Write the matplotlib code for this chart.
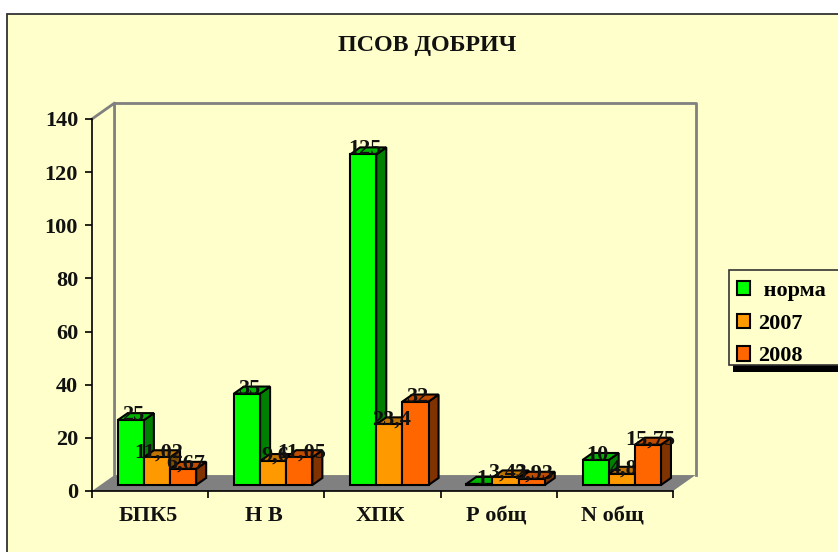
import matplotlib
matplotlib.use("Agg")
import matplotlib.pyplot as plt
from matplotlib.patches import Polygon, Rectangle, Patch

plt.rcParams['font.family'] = ['Liberation Serif', 'DejaVu Serif']
plt.rcParams['font.weight'] = 'bold'
plt.rcParams['font.size'] = 16

categories = ['БПК5', 'Н В', 'ХПК', 'Р общ', 'N общ']
norma = [25, 35, 125, 1, 10]
y2007 = [11.02, 9.6, 23.4, 3.43, 4.8]
y2008 = [6.67, 11.05, 32, 2.93, 15.75]
series_names = [' норма', '2007', '2008']
yticks = [0, 20, 40, 60, 80, 100, 120, 140]

W, H = 838, 552
CREAM = '#FFFFCC'
GREY = '#808080'
# front, top, side colour per series
colors = [('#00FF00', '#00B400', '#008000'),
          ('#FF9900', '#BF7300', '#7F4C00'),
          ('#FF6600', '#BF4C00', '#803300')]

# depth of the 3d look in data units
wall_dx, wall_dy = 0.194, 6.0
bar_dx, bar_dy = 0.086, 2.65
base = 2.26
sink = 0.6  # bars start slightly below the level they stand on
bar_w = 0.225
group_c = 0.559


def fmt(v):
    return ('%g' % v).replace('.', ',')


fig = plt.figure(figsize=(W / 100, H / 100), dpi=100, facecolor='white')

# chart area frame, legend box, in pixels from the top left
bg = fig.add_axes([0, 0, 1, 1])
bg.set_xlim(0, W)
bg.set_ylim(H, 0)
bg.axis('off')
bg.add_patch(Rectangle((7, 14), W, H, fc=CREAM, ec='#333333', lw=1.3))
bg.add_patch(Rectangle((733, 360), W, 12, fc='black', ec='none', zorder=3))
bg.add_patch(Rectangle((729, 270), W, 95, fc=CREAM, ec='#333333', lw=1.2, zorder=4))

ax = fig.add_axes([92 / W, 1 - 491 / H, 581 / W, 372 / H])
ax.patch.set_alpha(0)
ax.set_xlim(0, 5)
ax.set_ylim(0, 140)

# walls and floor
ax.add_patch(Polygon([(0, 0), (5, 0), (5 + wall_dx, wall_dy), (wall_dx, wall_dy)],
                     fc=GREY, ec='none', clip_on=False, zorder=1))
ax.plot([0, wall_dx, wall_dx], [140, 140 + wall_dy, wall_dy], color=GREY, lw=2,
        clip_on=False, zorder=1)
ax.plot([wall_dx, 5 + wall_dx, 5 + wall_dx], [140 + wall_dy, 140 + wall_dy, wall_dy],
        color=GREY, lw=2, clip_on=False, zorder=1)

all_series = [norma, y2007, y2008]
for j, vals in enumerate(all_series):
    front, top, side = colors[j]
    z = 3 + j
    for i, v in enumerate(vals):
        left = i + group_c + (j - 1.5) * bar_w
        right = left + bar_w
        h = base + v - sink
        ax.add_patch(Polygon([(right, base), (right + bar_dx, base + bar_dy),
                              (right + bar_dx, h + bar_dy), (right, h)],
                             fc=side, ec='black', lw=1.5, zorder=z, clip_on=False))
        ax.add_patch(Polygon([(left, h), (right, h), (right + bar_dx, h + bar_dy),
                              (left + bar_dx, h + bar_dy)],
                             fc=top, ec='black', lw=1.5, zorder=z, clip_on=False))
        ax.bar(left, v - sink, bar_w, bottom=base, align='edge', color=front, ec='black',
               lw=1.5, zorder=z, clip_on=False)
for j, vals in enumerate(all_series):
    for i, v in enumerate(vals):
        xc = i + group_c + (j - 1) * bar_w + 0.018
        ax.text(xc, base + v - sink, fmt(v), ha='center', va='baseline', color='#111111',
                zorder=10, clip_on=False)

for s in ['top', 'right']:
    ax.spines[s].set_visible(False)
ax.spines['left'].set_linewidth(1.2)
ax.spines['bottom'].set_linewidth(1.2)
ax.set_yticks(yticks)
ax.tick_params(axis='y', length=5, width=1.2, pad=5, labelcolor='#111111')
ax.set_xticks(range(6))
ax.set_xticklabels([])
ax.tick_params(axis='x', length=5, width=1.2)
ax.set_xticks([i + 0.48 for i in range(5)], minor=True)
ax.set_xticklabels(categories, minor=True)
ax.tick_params(axis='x', which='minor', length=0, pad=11, labelcolor='#111111')

fig.text(427 / W, 1 - 45 / H, 'ПСОВ ДОБРИЧ', ha='center', va='center', fontsize=17.3,
         color='#111111')

handles = [Patch(fc=c[0], ec='black', lw=1.5) for c in colors]
leg = fig.legend(handles, series_names, loc='upper left',
                 bbox_to_anchor=(737 / W, 1 - 281 / H), frameon=False, fontsize=16,
                 handlelength=0.6, handleheight=0.6, handletextpad=0.36,
                 labelspacing=0.57, borderpad=0, borderaxespad=0)
leg.set_zorder(10)

fig.savefig('out.png', dpi=100)
